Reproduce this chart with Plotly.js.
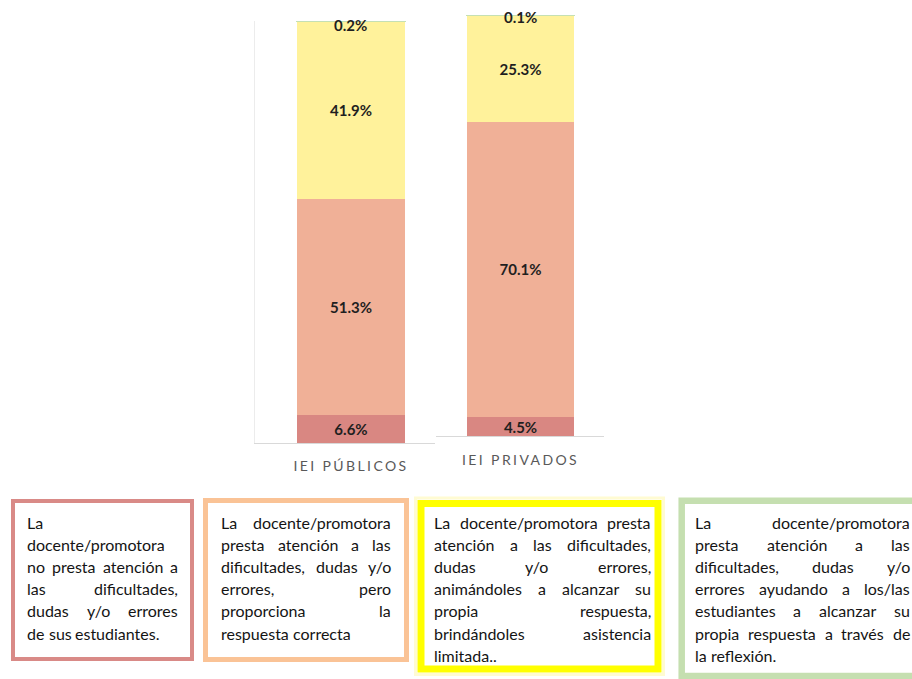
<!DOCTYPE html>
<html>
<head>
<meta charset="utf-8">
<script src="https://cdn.plot.ly/plotly-3.0.1.min.js"></script>
<style>
  html, body { margin: 0; padding: 0; background: #ffffff; }
  #chart { width: 912px; height: 679px; }
  .xtick text, .x2tick text { letter-spacing: 2.4px; }
</style>
</head>
<body>
<div id="chart"></div>
<script>
// ---------------- DATA ----------------
const categories = ['IEI PÚBLICOS', 'IEI PRIVADOS'];
const noAtiende          = [6.6, 4.5];    // no presta atención
const respuestaCorrecta  = [51.3, 70.1];  // proporciona la respuesta correcta
const asistenciaLimitada = [41.9, 25.3];  // asistencia limitada
const reflexion          = [0.2, 0.1];    // a través de la reflexión

const legendBox1 = ['La', 'docente/promotora', 'no presta atención a', 'las dificultades,', 'dudas y/o errores', 'de sus estudiantes.'];
const legendBox2 = ['La docente/promotora', 'presta atención a las', 'dificultades, dudas y/o', 'errores, pero', 'proporciona la', 'respuesta correcta'];
const legendBox3 = ['La docente/promotora presta', 'atención a las dificultades,', 'dudas y/o errores,', 'animándoles a alcanzar su', 'propia respuesta,', 'brindándoles asistencia', 'limitada..'];
const legendBox4 = ['La docente/promotora', 'presta atención a las', 'dificultades, dudas y/o', 'errores ayudando a los/las', 'estudiantes a alcanzar su', 'propia respuesta a través de', 'la reflexión.'];

// ---------------- STYLE ----------------
const W = 912, H = 679;
const seriesColors = ['#D98782', '#F0B097', '#FFF29B', '#C5E0B4'];
const boxColors = ['#D98A87', '#FAC396', '#FFFF00', '#C5DFB0'];
const labelFont = { family: 'Lato, Carlito, sans-serif', size: 15, color: '#1f1f1f', weight: 700 };
const boxFont = { family: 'Lato', size: 16, color: '#141414' };

const px = x => x / W;
const py = y => 1 - y / H;

const series = [noAtiende, respuestaCorrecta, asistenciaLimitada, reflexion];
const axisNames = [['x', 'y'], ['x2', 'y2']];
const barWidths = [0.6, 0.637];

const traces = [];
for (let i = 0; i < categories.length; i++) {
  series.forEach((s, k) => {
    traces.push({
      type: 'bar',
      x: [categories[i]],
      y: [s[i]],
      xaxis: axisNames[i][0],
      yaxis: axisNames[i][1],
      width: barWidths[i],
      marker: { color: seriesColors[k], line: k === 3 ? { width: 1.2, color: seriesColors[k] } : { width: 0 } },
      texttemplate: k < 3 ? '%{y:.1f}%' : '',
      textposition: k < 3 ? 'inside' : 'none',
      insidetextanchor: 'middle',
      constraintext: 'none',
      textfont: labelFont,
      hoverinfo: 'skip',
      showlegend: false
    });
  });
}

const annotations = [];
// labels for the tiny top segment
const topShift = [-4, -2];
for (let i = 0; i < categories.length; i++) {
  const total = series.reduce((a, s) => a + s[i], 0);
  annotations.push({
    xref: axisNames[i][0], yref: axisNames[i][1],
    x: categories[i], y: total,
    text: reflexion[i].toFixed(1) + '%',
    showarrow: false, yanchor: 'middle', yshift: topShift[i],
    font: labelFont
  });
}

// justified legend boxes
const ctx = document.createElement('canvas').getContext('2d');
ctx.font = boxFont.size + 'px ' + boxFont.family;
const tw = s => ctx.measureText(s).width;
const spaceW = tw(' ');
const boxes = [legendBox1, legendBox2, legendBox3, legendBox4];
const textAreas = [[27, 178], [221, 391], [434, 651], [695, 910]];
const firstCenter = 522, lineGap = 22.2;

boxes.forEach((lines, b) => {
  const [left, right] = textAreas[b];
  lines.forEach((line, j) => {
    const words = line.split(' ');
    const widths = words.map(tw);
    const yC = firstCenter + j * lineGap;
    let gap = spaceW;
    if (j < lines.length - 1 && words.length > 1) {
      const total = widths.reduce((a, v) => a + v, 0);
      gap = (right - left - total) / (words.length - 1);
    }
    let xPos = left;
    words.forEach((word, k) => {
      annotations.push({
        xref: 'paper', yref: 'paper',
        x: px(xPos), y: py(yC),
        xanchor: 'left', yanchor: 'middle',
        text: word, showarrow: false,
        borderpad: 0, borderwidth: 0,
        font: boxFont
      });
      xPos += widths[k] + gap;
    });
  });
});

const rect = (x0, y0, x1, y1, color, width) => ({
  type: 'rect', xref: 'paper', yref: 'paper',
  x0: px(x0), x1: px(x1), y0: py(y0), y1: py(y1),
  line: { color: color, width: width }, fillcolor: 'rgba(0,0,0,0)', layer: 'above'
});

const shapes = [
  rect(13, 501, 192, 659, boxColors[0], 4),
  rect(205.5, 500.5, 406.5, 659.5, boxColors[1], 5),
  rect(415.5, 498, 663.5, 674.5, '#FFFBD2', 3),
  rect(421, 503.5, 658, 669, boxColors[2], 7),
  rect(681.7, 500.7, 918, 676, boxColors[3], 6.5)
];

const baseX = {
  type: 'category', showgrid: false, zeroline: false, ticks: '',
  showline: true, linecolor: '#d9d9d9', linewidth: 1,
  tickfont: { family: 'Lato, sans-serif', size: 14, color: '#595959' },
  fixedrange: true
};
const baseY = {
  range: [0, 100], showgrid: false, zeroline: false, showticklabels: false,
  ticks: '', fixedrange: true
};

const layout = {
  width: W, height: H,
  margin: { l: 0, r: 0, t: 0, b: 0 },
  paper_bgcolor: '#ffffff',
  plot_bgcolor: 'rgba(0,0,0,0)',
  barmode: 'stack',
  showlegend: false,
  xaxis: Object.assign({}, baseX, { domain: [px(255), px(435)], range: [-0.5333, 0.4667], anchor: 'y', ticklabelstandoff: 10 }),
  yaxis: Object.assign({}, baseY, { domain: [py(443), py(21)], anchor: 'x', showline: true, linecolor: '#ececec', linewidth: 1 }),
  xaxis2: Object.assign({}, baseX, { domain: [px(436), px(604)], range: [-0.503, 0.497], anchor: 'y2', ticklabelstandoff: 11 }),
  yaxis2: Object.assign({}, baseY, { domain: [py(436), py(15)], anchor: 'x2', showline: false }),
  annotations: annotations,
  shapes: shapes
};

Plotly.newPlot('chart', traces, layout, { staticPlot: true, displayModeBar: false });
</script>
</body>
</html>
